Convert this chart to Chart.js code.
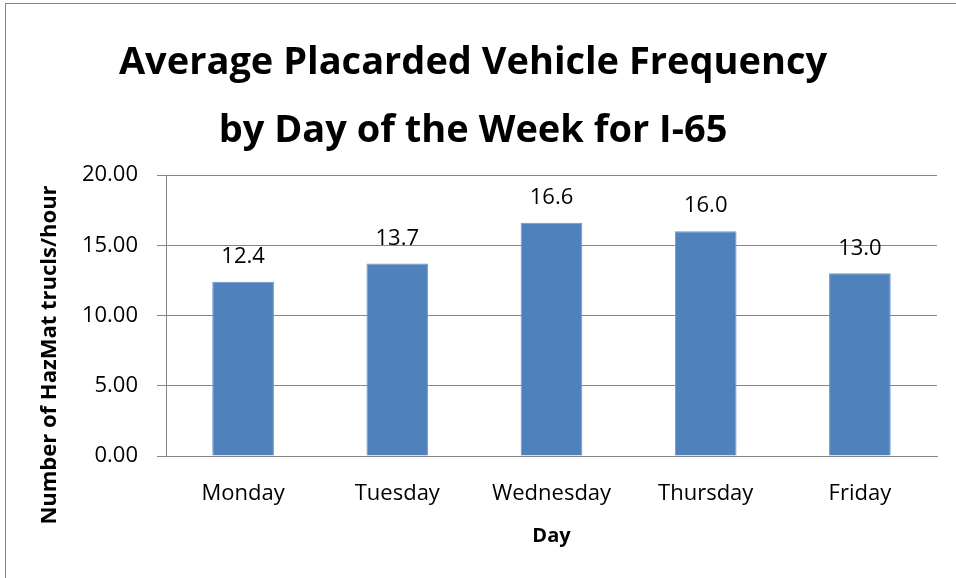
<!DOCTYPE html>
<html>
<head>
<meta charset="utf-8">
<script src="https://cdn.jsdelivr.net/npm/chart.js@4"></script>
<style>
  html, body { margin: 0; padding: 0; background: #fff; }
  #wrap { position: relative; width: 956px; height: 578px; }
  #frame { position: absolute; left: 5px; top: 3px; right: -5px; bottom: -5px;
           border-left: 1px solid #878787; border-top: 1px solid #878787; pointer-events: none; }
</style>
</head>
<body>
<div id="wrap">
  <canvas id="chart" width="956" height="578"></canvas>
  <div id="frame"></div>
</div>
<script>
// data
const days = ["Monday", "Tuesday", "Wednesday", "Thursday", "Friday"];
const avgTrucks = [12.4, 13.7, 16.6, 16.0, 13.0];
const titleLines = ["Average Placarded Vehicle Frequency", "by Day of the Week for I-65"];
const yTitle = "Number of HazMat trucls/hour";
const xTitle = "Day";

const FONT = "'Open Sans', sans-serif";

// value labels above bars + title + rotated y title
const labelsPlugin = {
  id: "labels",
  afterDraw(chart) {
    const ctx = chart.ctx;
    ctx.save();
    ctx.fillStyle = "#000";
    ctx.textAlign = "center";
    ctx.textBaseline = "middle";

    ctx.font = "bold 38px " + FONT;
    ctx.fillText(titleLines[0], 473, 63);
    ctx.fillText(titleLines[1], 473, 131);

    ctx.font = "22px " + FONT;
    const meta = chart.getDatasetMeta(0);
    meta.data.forEach((bar, i) => {
      ctx.fillText(avgTrucks[i].toFixed(1), bar.x, bar.y - 25);
    });

    ctx.translate(50, 355);
    ctx.rotate(-Math.PI / 2);
    ctx.font = "bold 22px " + FONT;
    ctx.fillText(yTitle, 0, 0);
    ctx.restore();
  }
};

new Chart(document.getElementById("chart"), {
  type: "bar",
  data: {
    labels: days,
    datasets: [{
      data: avgTrucks,
      backgroundColor: "#4F81BD",
      borderColor: "#6A96CC",
      borderWidth: 1,
      barPercentage: 0.4,
      categoryPercentage: 1.0,
    }],
  },
  options: {
    responsive: false,
    animation: false,
    layout: { padding: { top: 175, right: 19, left: 0, bottom: 0 } },
    plugins: {
      legend: { display: false },
      title: { display: false },
      tooltip: { enabled: false },
    },
    scales: {
      y: {
        min: 0,
        max: 20,
        afterFit(scale) { scale.width = 166; },
        ticks: {
          stepSize: 5,
          color: "#000",
          padding: 19,
          font: { family: FONT, size: 22 },
          callback: (v) => v.toFixed(2),
        },
        grid: { color: "#868686", lineWidth: 1, tickLength: 9 },
        border: { color: "#868686", width: 1 },
      },
      x: {
        afterFit(scale) { scale.height = 122; },
        ticks: {
          color: "#000",
          padding: 17,
          font: { family: FONT, size: 22 },
        },
        grid: { display: false },
        border: { color: "#868686", width: 1 },
        title: {
          display: true,
          text: xTitle,
          color: "#000",
          font: { family: FONT, size: 20, weight: "bold" },
          padding: { top: 0, bottom: 30 },
        },
      },
    },
  },
  plugins: [labelsPlugin],
});
</script>
</body>
</html>
